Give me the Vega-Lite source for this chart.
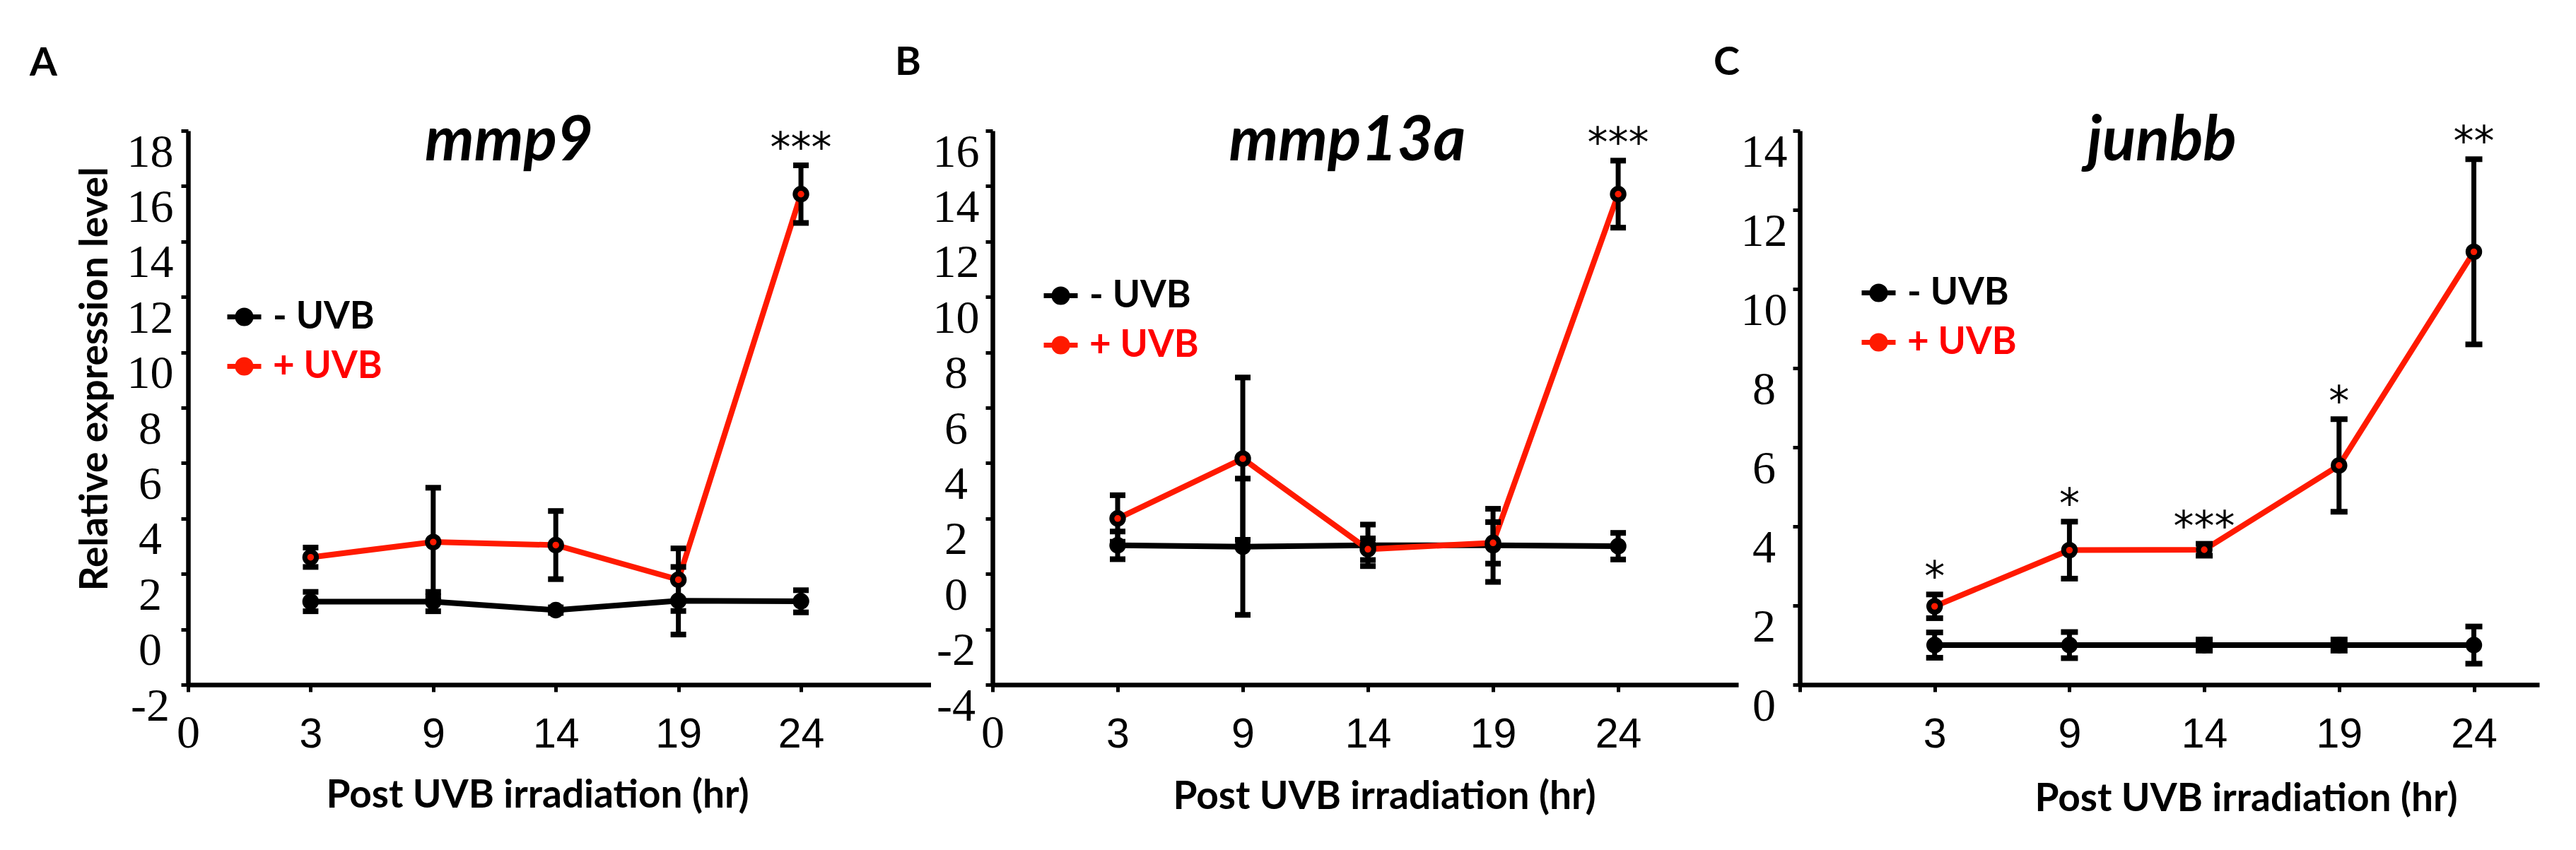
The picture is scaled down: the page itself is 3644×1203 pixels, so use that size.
{
  "$schema": "https://vega.github.io/schema/vega-lite/v6.json",
  "background": "white",
  "padding": {"left": 42, "top": 61, "right": 10, "bottom": 10},
  "datasets": {
    "expr": [
      {"gene": "mmp9", "group": "- UVB", "hr": 3, "mean": 1.0, "lo": 0.65, "hi": 1.35, "sig": ""},
      {"gene": "mmp9", "group": "- UVB", "hr": 9, "mean": 1.0, "lo": 0.65, "hi": 1.35, "sig": ""},
      {"gene": "mmp9", "group": "- UVB", "hr": 14, "mean": 0.69, "lo": 0.59, "hi": 0.79, "sig": ""},
      {"gene": "mmp9", "group": "- UVB", "hr": 19, "mean": 1.03, "lo": -0.19, "hi": 2.25, "sig": ""},
      {"gene": "mmp9", "group": "- UVB", "hr": 24, "mean": 1.01, "lo": 0.61, "hi": 1.41, "sig": ""},
      {"gene": "mmp9", "group": "+ UVB", "hr": 3, "mean": 2.6, "lo": 2.25, "hi": 2.95, "sig": ""},
      {"gene": "mmp9", "group": "+ UVB", "hr": 9, "mean": 3.15, "lo": 1.19, "hi": 5.11, "sig": ""},
      {"gene": "mmp9", "group": "+ UVB", "hr": 14, "mean": 3.04, "lo": 1.81, "hi": 4.27, "sig": ""},
      {"gene": "mmp9", "group": "+ UVB", "hr": 19, "mean": 1.79, "lo": 0.66, "hi": 2.92, "sig": ""},
      {"gene": "mmp9", "group": "+ UVB", "hr": 24, "mean": 15.71, "lo": 14.67, "hi": 16.75, "sig": "***"},
      {"gene": "mmp13a", "group": "- UVB", "hr": 3, "mean": 1.03, "lo": 0.53, "hi": 1.53, "sig": ""},
      {"gene": "mmp13a", "group": "- UVB", "hr": 9, "mean": 0.98, "lo": -1.48, "hi": 3.44, "sig": ""},
      {"gene": "mmp13a", "group": "- UVB", "hr": 14, "mean": 1.03, "lo": 0.28, "hi": 1.78, "sig": ""},
      {"gene": "mmp13a", "group": "- UVB", "hr": 19, "mean": 1.03, "lo": -0.29, "hi": 2.35, "sig": ""},
      {"gene": "mmp13a", "group": "- UVB", "hr": 24, "mean": 1.0, "lo": 0.52, "hi": 1.48, "sig": ""},
      {"gene": "mmp13a", "group": "+ UVB", "hr": 3, "mean": 2.0, "lo": 1.16, "hi": 2.84, "sig": ""},
      {"gene": "mmp13a", "group": "+ UVB", "hr": 9, "mean": 4.16, "lo": 1.23, "hi": 7.09, "sig": ""},
      {"gene": "mmp13a", "group": "+ UVB", "hr": 14, "mean": 0.89, "lo": 0.5, "hi": 1.28, "sig": ""},
      {"gene": "mmp13a", "group": "+ UVB", "hr": 19, "mean": 1.12, "lo": 0.37, "hi": 1.87, "sig": ""},
      {"gene": "mmp13a", "group": "+ UVB", "hr": 24, "mean": 13.71, "lo": 12.5, "hi": 14.92, "sig": "***"},
      {"gene": "junbb", "group": "- UVB", "hr": 3, "mean": 1.0, "lo": 0.68, "hi": 1.32, "sig": ""},
      {"gene": "junbb", "group": "- UVB", "hr": 9, "mean": 1.0, "lo": 0.67, "hi": 1.33, "sig": ""},
      {"gene": "junbb", "group": "- UVB", "hr": 14, "mean": 1.0, "lo": 0.86, "hi": 1.14, "sig": ""},
      {"gene": "junbb", "group": "- UVB", "hr": 19, "mean": 1.0, "lo": 0.86, "hi": 1.14, "sig": ""},
      {"gene": "junbb", "group": "- UVB", "hr": 24, "mean": 1.0, "lo": 0.53, "hi": 1.47, "sig": ""},
      {"gene": "junbb", "group": "+ UVB", "hr": 3, "mean": 1.98, "lo": 1.68, "hi": 2.28, "sig": "*"},
      {"gene": "junbb", "group": "+ UVB", "hr": 9, "mean": 3.4, "lo": 2.68, "hi": 4.12, "sig": "*"},
      {"gene": "junbb", "group": "+ UVB", "hr": 14, "mean": 3.41, "lo": 3.26, "hi": 3.56, "sig": "***"},
      {"gene": "junbb", "group": "+ UVB", "hr": 19, "mean": 5.54, "lo": 4.37, "hi": 6.71, "sig": "*"},
      {"gene": "junbb", "group": "+ UVB", "hr": 24, "mean": 10.94, "lo": 8.6, "hi": 13.28, "sig": "**"}
    ],
    "panels": [
      {"gene": "mmp9", "letter": "A"},
      {"gene": "mmp13a", "letter": "B"},
      {"gene": "junbb", "letter": "C"}
    ]
  },
  "hconcat": [
    {
      "width": 1050.5,
      "height": 784,
      "data": {"name": "expr"},
      "transform": [{"filter": "datum.gene === 'mmp9'"}],
      "layer": [
        {
          "mark": {"type": "line", "strokeWidth": 8},
          "encoding": {
            "x": {"field": "hr", "type": "ordinal",
              "scale": {"type": "point", "domain": [0, 3, 9, 14, 19, 24], "padding": 0.529, "align": 0},
              "axis": {"title": "Post UVB irradiation (hr)", "titleX": 494, "titleY": 173, "titleAlign": "center", "titleBaseline": "alphabetic",
                "labelAngle": 0, "labelBaseline": "alphabetic", "labelPadding": 78,
                "labelFont": {"condition": {"test": "datum.value === 0", "value": "Liberation Serif"}, "value": "Liberation Sans"},
                "labelFontSize": {"condition": {"test": "datum.value === 0", "value": 66}, "value": 59}}},
            "y": {"field": "mean", "type": "quantitative", "title": "Relative expression level",
              "scale": {"domain": [-2, 18], "nice": false, "zero": false},
              "axis": {"title": "Relative expression level", "titleAngle": 270, "titleX": -115, "titleY": 351, "titleAlign": "center", "titleBaseline": "alphabetic",
                "values": [-2, 0, 2, 4, 6, 8, 10, 12, 14, 16, 18], "labelExpr": "'' + datum.value",
                "labelFont": "Liberation Serif", "labelFontSize": 66, "labelAlign": "center", "labelBaseline": "middle", "labelPadding": 44, "labelOffset": 30}},
            "color": {"field": "group", "type": "nominal",
              "scale": {"domain": ["- UVB", "+ UVB"], "range": ["#000000", "#ff1a00"]},
              "legend": {"orient": "none", "legendX": 52, "legendY": 236, "title": null, "padding": 0,
                "symbolType": "M-1,0H1M-0.4,0A0.4,0.4,0,1,0,0.4,0A0.4,0.4,0,1,0,-0.4,0", "symbolSize": 2304, "symbolStrokeWidth": 7,
                "labelFont": "Lato", "labelFontWeight": "bold", "labelFontSize": 53, "labelOffset": 13, "rowPadding": 15, "labelLimit": 0,
                "encode": {
                  "symbols": {"update": {"stroke": {"value": "#000000"}, "fill": {"signal": "datum.value === '+ UVB' ? '#ff1a00' : '#000000'"}, "strokeWidth": {"value": 7}, "opacity": {"value": 1}}},
                  "labels": {"update": {"fill": {"signal": "datum.value === '+ UVB' ? '#ff0000' : '#000000'"}}}
                }}}
          }
        },
        {
          "mark": {"type": "errorbar", "color": "#000000", "opacity": 1, "thickness": 7, "rule": {"strokeWidth": 7, "opacity": 1}, "ticks": {"size": 22, "thickness": 8, "color": "#000000", "opacity": 1}},
          "encoding": {
            "x": {"field": "hr", "type": "ordinal"},
            "y": {"field": "lo", "type": "quantitative", "title": "Relative expression level"},
            "y2": {"field": "hi"}
          }
        },
        {
          "mark": {"type": "point", "shape": "circle", "filled": true, "size": 270, "stroke": "#000000", "strokeWidth": 7, "opacity": 1},
          "encoding": {
            "x": {"field": "hr", "type": "ordinal"},
            "y": {"field": "mean", "type": "quantitative", "title": "Relative expression level"},
            "fill": {"field": "group", "type": "nominal", "scale": {"domain": ["- UVB", "+ UVB"], "range": ["#000000", "#ff1a00"]}, "legend": null}
          }
        },
        {
          "transform": [{"filter": "datum.sig !== ''"}],
          "mark": {"type": "text", "font": "DejaVu Sans", "fontSize": 58, "baseline": "alphabetic", "align": "center", "dy": -5, "color": "#000000"},
          "encoding": {
            "x": {"field": "hr", "type": "ordinal"},
            "y": {"field": "hi", "type": "quantitative", "title": "Relative expression level"},
            "text": {"field": "sig"}
          }
        },
        {
          "data": {"name": "panels"},
          "transform": [{"filter": "datum.gene === 'mmp9'"}],
          "mark": {"type": "text", "font": "Lato", "fontSize": 88, "fontWeight": "bold", "fontStyle": "italic", "align": "center", "baseline": "alphabetic", "dx": 454, "dy": 42, "color": "#000000"},
          "encoding": {
            "x": {"datum": 0, "type": "ordinal"},
            "y": {"datum": 18, "type": "quantitative", "title": "Relative expression level"},
            "text": {"field": "gene"}
          }
        },
        {
          "data": {"name": "panels"},
          "transform": [{"filter": "datum.gene === 'mmp9'"}],
          "mark": {"type": "text", "font": "Lato", "fontSize": 56, "fontWeight": "bold", "align": "center", "baseline": "alphabetic", "dx": -204.5, "dy": -78, "color": "#000000"},
          "encoding": {
            "x": {"datum": 0, "type": "ordinal"},
            "y": {"datum": 18, "type": "quantitative", "title": "Relative expression level"},
            "text": {"field": "letter"}
          }
        }
      ]
    },
    {
      "width": 1055,
      "height": 784,
      "data": {"name": "expr"},
      "transform": [{"filter": "datum.gene === 'mmp13a'"}],
      "layer": [
        {
          "mark": {"type": "line", "strokeWidth": 8},
          "encoding": {
            "x": {"field": "hr", "type": "ordinal",
              "scale": {"type": "point", "domain": [0, 3, 9, 14, 19, 24], "padding": 0.48, "align": 0},
              "axis": {"title": "Post UVB irradiation (hr)", "titleX": 554, "titleY": 175, "titleAlign": "center", "titleBaseline": "alphabetic",
                "labelAngle": 0, "labelBaseline": "alphabetic", "labelPadding": 78,
                "labelFont": {"condition": {"test": "datum.value === 0", "value": "Liberation Serif"}, "value": "Liberation Sans"},
                "labelFontSize": {"condition": {"test": "datum.value === 0", "value": 66}, "value": 59}}},
            "y": {"field": "mean", "type": "quantitative",
              "scale": {"domain": [-4, 16], "nice": false, "zero": false},
              "axis": {"title": null,
                "values": [-4, -2, 0, 2, 4, 6, 8, 10, 12, 14, 16], "labelExpr": "'' + datum.value",
                "labelFont": "Liberation Serif", "labelFontSize": 66, "labelAlign": "center", "labelBaseline": "middle", "labelPadding": 42, "labelOffset": 30}},
            "color": {"field": "group", "type": "nominal",
              "scale": {"domain": ["- UVB", "+ UVB"], "range": ["#000000", "#ff1a00"]},
              "legend": {"orient": "none", "legendX": 69, "legendY": 206, "title": null, "padding": 0,
                "symbolType": "M-1,0H1M-0.4,0A0.4,0.4,0,1,0,0.4,0A0.4,0.4,0,1,0,-0.4,0", "symbolSize": 2304, "symbolStrokeWidth": 7,
                "labelFont": "Lato", "labelFontWeight": "bold", "labelFontSize": 53, "labelOffset": 13, "rowPadding": 15, "labelLimit": 0,
                "encode": {
                  "symbols": {"update": {"stroke": {"value": "#000000"}, "fill": {"signal": "datum.value === '+ UVB' ? '#ff1a00' : '#000000'"}, "strokeWidth": {"value": 7}, "opacity": {"value": 1}}},
                  "labels": {"update": {"fill": {"signal": "datum.value === '+ UVB' ? '#ff0000' : '#000000'"}}}
                }}}
          }
        },
        {
          "mark": {"type": "errorbar", "color": "#000000", "opacity": 1, "thickness": 7, "rule": {"strokeWidth": 7, "opacity": 1}, "ticks": {"size": 22, "thickness": 8, "color": "#000000", "opacity": 1}},
          "encoding": {
            "x": {"field": "hr", "type": "ordinal"},
            "y": {"field": "lo", "type": "quantitative"},
            "y2": {"field": "hi"}
          }
        },
        {
          "mark": {"type": "point", "shape": "circle", "filled": true, "size": 270, "stroke": "#000000", "strokeWidth": 7, "opacity": 1},
          "encoding": {
            "x": {"field": "hr", "type": "ordinal"},
            "y": {"field": "mean", "type": "quantitative"},
            "fill": {"field": "group", "type": "nominal", "scale": {"domain": ["- UVB", "+ UVB"], "range": ["#000000", "#ff1a00"]}, "legend": null}
          }
        },
        {
          "transform": [{"filter": "datum.sig !== ''"}],
          "mark": {"type": "text", "font": "DejaVu Sans", "fontSize": 58, "baseline": "alphabetic", "align": "center", "dy": -5, "color": "#000000"},
          "encoding": {
            "x": {"field": "hr", "type": "ordinal"},
            "y": {"field": "hi", "type": "quantitative"},
            "text": {"field": "sig"}
          }
        },
        {
          "data": {"name": "panels"},
          "transform": [{"filter": "datum.gene === 'mmp13a'"}],
          "mark": {"type": "text", "font": "Lato", "fontSize": 88, "fontWeight": "bold", "fontStyle": "italic", "align": "center", "baseline": "alphabetic", "dx": 502, "dy": 42, "color": "#000000"},
          "encoding": {
            "x": {"datum": 0, "type": "ordinal"},
            "y": {"datum": 16, "type": "quantitative"},
            "text": {"field": "gene"}
          }
        },
        {
          "data": {"name": "panels"},
          "transform": [{"filter": "datum.gene === 'mmp13a'"}],
          "mark": {"type": "text", "font": "Lato", "fontSize": 56, "fontWeight": "bold", "align": "center", "baseline": "alphabetic", "dx": -119.5, "dy": -79, "color": "#000000"},
          "encoding": {
            "x": {"datum": 0, "type": "ordinal"},
            "y": {"datum": 16, "type": "quantitative"},
            "text": {"field": "letter"}
          }
        }
      ]
    },
    {
      "width": 1046,
      "height": 784,
      "data": {"name": "expr"},
      "transform": [{"filter": "datum.gene === 'junbb'"}],
      "layer": [
        {
          "mark": {"type": "line", "strokeWidth": 8},
          "encoding": {
            "x": {"field": "hr", "type": "ordinal",
              "scale": {"type": "point", "domain": [0, 3, 9, 14, 19, 24], "padding": 0.2425, "align": 0},
              "axis": {"title": "Post UVB irradiation (hr)", "titleX": 631, "titleY": 178, "titleAlign": "center", "titleBaseline": "alphabetic",
                "labelAngle": 0, "labelBaseline": "alphabetic", "labelPadding": 78, "labelExpr": "datum.value === 0 ? '' : datum.label",
                "labelFont": "Liberation Sans", "labelFontSize": 59}},
            "y": {"field": "mean", "type": "quantitative",
              "scale": {"domain": [0, 14], "nice": false, "zero": false},
              "axis": {"title": null,
                "values": [0, 2, 4, 6, 8, 10, 12, 14], "labelExpr": "'' + datum.value",
                "labelFont": "Liberation Serif", "labelFontSize": 66, "labelAlign": "center", "labelBaseline": "middle", "labelPadding": 41, "labelOffset": 30}},
            "color": {"field": "group", "type": "nominal",
              "scale": {"domain": ["- UVB", "+ UVB"], "range": ["#000000", "#ff1a00"]},
              "legend": {"orient": "none", "legendX": 84, "legendY": 202, "title": null, "padding": 0,
                "symbolType": "M-1,0H1M-0.4,0A0.4,0.4,0,1,0,0.4,0A0.4,0.4,0,1,0,-0.4,0", "symbolSize": 2304, "symbolStrokeWidth": 7,
                "labelFont": "Lato", "labelFontWeight": "bold", "labelFontSize": 53, "labelOffset": 13, "rowPadding": 15, "labelLimit": 0,
                "encode": {
                  "symbols": {"update": {"stroke": {"value": "#000000"}, "fill": {"signal": "datum.value === '+ UVB' ? '#ff1a00' : '#000000'"}, "strokeWidth": {"value": 7}, "opacity": {"value": 1}}},
                  "labels": {"update": {"fill": {"signal": "datum.value === '+ UVB' ? '#ff0000' : '#000000'"}}}
                }}}
          }
        },
        {
          "mark": {"type": "errorbar", "color": "#000000", "opacity": 1, "thickness": 7, "rule": {"strokeWidth": 7, "opacity": 1}, "ticks": {"size": 24, "thickness": 8, "color": "#000000", "opacity": 1}},
          "encoding": {
            "x": {"field": "hr", "type": "ordinal"},
            "y": {"field": "lo", "type": "quantitative"},
            "y2": {"field": "hi"}
          }
        },
        {
          "mark": {"type": "point", "shape": "circle", "filled": true, "size": 270, "stroke": "#000000", "strokeWidth": 7, "opacity": 1},
          "encoding": {
            "x": {"field": "hr", "type": "ordinal"},
            "y": {"field": "mean", "type": "quantitative"},
            "fill": {"field": "group", "type": "nominal", "scale": {"domain": ["- UVB", "+ UVB"], "range": ["#000000", "#ff1a00"]}, "legend": null}
          }
        },
        {
          "transform": [{"filter": "datum.sig !== ''"}],
          "mark": {"type": "text", "font": "DejaVu Sans", "fontSize": 58, "baseline": "alphabetic", "align": "center", "dy": -5, "color": "#000000"},
          "encoding": {
            "x": {"field": "hr", "type": "ordinal"},
            "y": {"field": "hi", "type": "quantitative"},
            "text": {"field": "sig"}
          }
        },
        {
          "data": {"name": "panels"},
          "transform": [{"filter": "datum.gene === 'junbb'"}],
          "mark": {"type": "text", "font": "Lato", "fontSize": 88, "fontWeight": "bold", "fontStyle": "italic", "align": "center", "baseline": "alphabetic", "dx": 512, "dy": 42, "color": "#000000"},
          "encoding": {
            "x": {"datum": 0, "type": "ordinal"},
            "y": {"datum": 14, "type": "quantitative"},
            "text": {"field": "gene"}
          }
        },
        {
          "data": {"name": "panels"},
          "transform": [{"filter": "datum.gene === 'junbb'"}],
          "mark": {"type": "text", "font": "Lato", "fontSize": 56, "fontWeight": "bold", "align": "center", "baseline": "alphabetic", "dx": -103.5, "dy": -79, "color": "#000000"},
          "encoding": {
            "x": {"datum": 0, "type": "ordinal"},
            "y": {"datum": 14, "type": "quantitative"},
            "text": {"field": "letter"}
          }
        }
      ]
    }
  ],
  "spacing": 87,
  "bounds": "flush",
  "resolve": {
    "scale": {"x": "independent", "y": "independent", "color": "independent", "fill": "independent"},
    "legend": {"color": "independent", "fill": "independent"}
  },
  "config": {
    "view": {"stroke": null},
    "font": "Lato",
    "axis": {
      "grid": false,
      "domainColor": "#000000", "domainWidth": 6.5,
      "tickColor": "#000000", "tickWidth": 5, "tickSize": 10,
      "labelColor": "#000000", "titleColor": "#000000",
      "labelOverlap": false, "labelFlush": false,
      "titleFont": "Lato", "titleFontWeight": "bold", "titleFontSize": 55
    }
  }
}
